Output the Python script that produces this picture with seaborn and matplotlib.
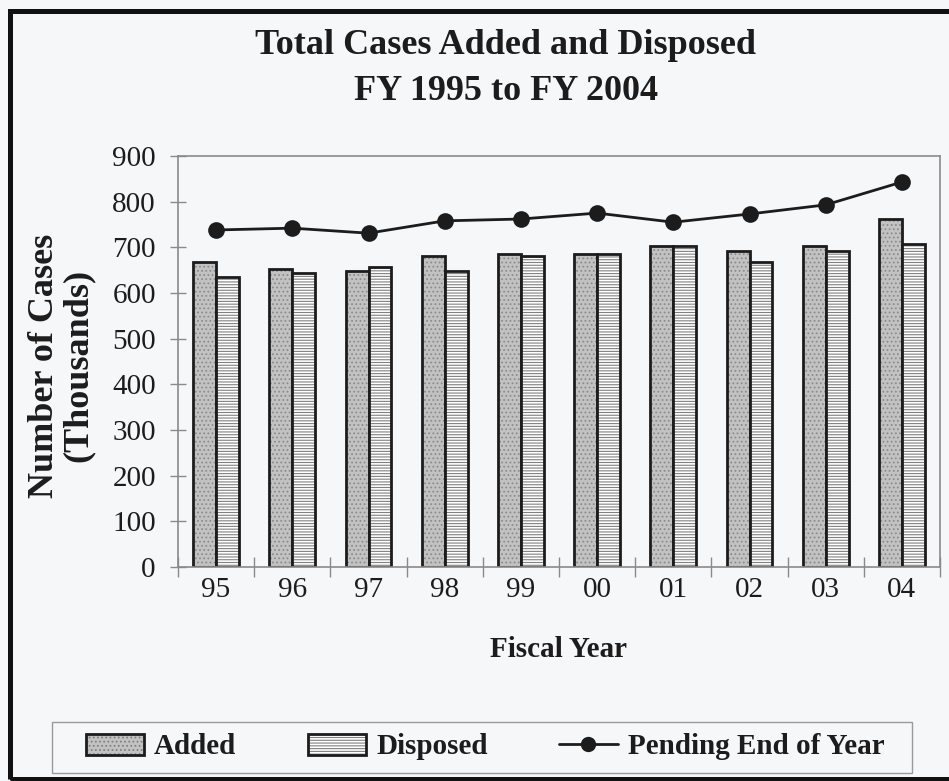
import matplotlib
matplotlib.use("Agg")
import matplotlib.pyplot as plt
from matplotlib.patches import Patch, Rectangle
from matplotlib.lines import Line2D
import numpy as np
import pandas as pd
import seaborn as sns

# Fiscal years and counts (thousands of cases)
years = ["95", "96", "97", "98", "99", "00", "01", "02", "03", "04"]
added = [668, 652, 648, 681, 685, 685, 703, 692, 703, 762]
disposed = [635, 644, 657, 648, 681, 685, 703, 668, 692, 707]
pending = [738, 742, 731, 758, 762, 775, 755, 773, 793, 843]

series_names = ["Added", "Disposed"]
y_ticks = [0, 100, 200, 300, 400, 500, 600, 700, 800, 900]

sns.set_theme(style="white")
plt.rcParams["font.family"] = ["Liberation Serif", "DejaVu Serif"]
plt.rcParams["hatch.linewidth"] = 0.8

ink = "#1c1c1c"
paper = "#f6f7f9"
W, H = 949, 781

df = pd.DataFrame({
    "year": years * 2,
    "cases": added + disposed,
    "series": [series_names[0]] * len(years) + [series_names[1]] * len(years),
})

fig = plt.figure(figsize=(W / 100, H / 100), dpi=100, facecolor=paper)
ax = fig.add_axes([178 / W, 1 - 567 / H, (940 - 178) / W, (567 - 156) / H])
ax.set_facecolor(paper)

sns.barplot(data=df, x="year", y="cases", hue="series", order=years,
            hue_order=series_names, width=0.6, dodge=True, gap=0,
            palette=["#c2c2c2", "#ffffff"], saturation=1, legend=False, ax=ax)

# Bar textures: stippled grey for added, ruled lines for disposed
n = len(years)
for i, bar in enumerate(ax.patches[:2 * n]):
    bar.set_edgecolor(ink)
    bar.set_linewidth(2.0)
    if i < n:
        bar.set_hatch("....")
        bar._hatch_color = (0.55, 0.55, 0.55, 1)
    else:
        bar.set_hatch("------")
        bar._hatch_color = (0.5, 0.5, 0.5, 1)

sns.pointplot(x=years, y=pending, order=years, color=ink, markers="o",
              markersize=10.5, linewidth=2.0, ax=ax)

ax.set_xlim(-0.5, n - 0.5)
ax.set_ylim(0, 900)
ax.set_yticks(y_ticks)
ax.set_yticklabels([str(t) for t in y_ticks])
ax.set_xticks(range(n))
ax.set_xticklabels(years)
ax.set_xticks(np.arange(-0.5, n, 1.0), minor=True)

ax.tick_params(axis="y", which="major", direction="inout", length=12,
               width=1, color="#8a8a8a", labelsize=21, labelcolor=ink, pad=10, left=True)
ax.tick_params(axis="x", which="major", length=0, labelsize=21,
               labelcolor=ink, pad=7)
ax.tick_params(axis="x", which="minor", direction="inout", length=14,
               width=1, color="#8a8a8a", bottom=True)

for side in ["top", "right", "bottom", "left"]:
    ax.spines[side].set_visible(True)
    ax.spines[side].set_color("#8a8a8a")
    ax.spines[side].set_linewidth(1.2)

ax.set_xlabel("Fiscal Year", fontsize=21, fontweight="bold", color=ink, labelpad=24)
ax.set_ylabel("Number of Cases\n(Thousands)", fontsize=26, fontweight="bold",
              color=ink, linespacing=1.05)
ax.yaxis.set_label_coords((95 - 178) / (940 - 178), 0.49)

fig.text(0.533, 1 - 45 / H, "Total Cases Added and Disposed", ha="center",
         va="center", fontsize=26, fontweight="bold", color=ink)
fig.text(0.533, 1 - 92 / H, "FY 1995 to FY 2004", ha="center",
         va="center", fontsize=26, fontweight="bold", color=ink)

handles = [
    Patch(facecolor="#c2c2c2", edgecolor=ink, hatch="....", linewidth=2.0),
    Patch(facecolor="#ffffff", edgecolor=ink, hatch="------", linewidth=2.0),
    Line2D([], [], color=ink, marker="o", markersize=10, linewidth=2.0),
]
leg = fig.legend(handles, ["Added", "Disposed", "Pending End of Year"],
                 loc="center", bbox_to_anchor=(485 / W, 1 - 747 / H),
                 ncol=3, frameon=False,
                 prop={"size": 21, "weight": "bold"}, handlelength=2.0,
                 handleheight=0.7, handletextpad=0.35, columnspacing=2.45,
                 borderpad=0.35)
for t in leg.get_texts():
    t.set_color(ink)
for h in leg.legend_handles[:2]:
    h._hatch_color = (0.5, 0.5, 0.5, 1)

# Legend box, wider than the entries
fig.patches.append(Rectangle((52 / W, 1 - 773 / H), (912 - 52) / W, (773 - 722) / H,
                             transform=fig.transFigure, fill=False,
                             edgecolor="#9a9a9a", linewidth=1.0))

# Heavy page frame
fig.patches.append(Rectangle((9.5 / W, 1 - 778.5 / H), 1.0, (778.5 - 10.5) / H,
                             transform=fig.transFigure, fill=False,
                             edgecolor="#111111", linewidth=3.6, clip_on=False))

fig.savefig("out.png", dpi=100, facecolor=paper)
